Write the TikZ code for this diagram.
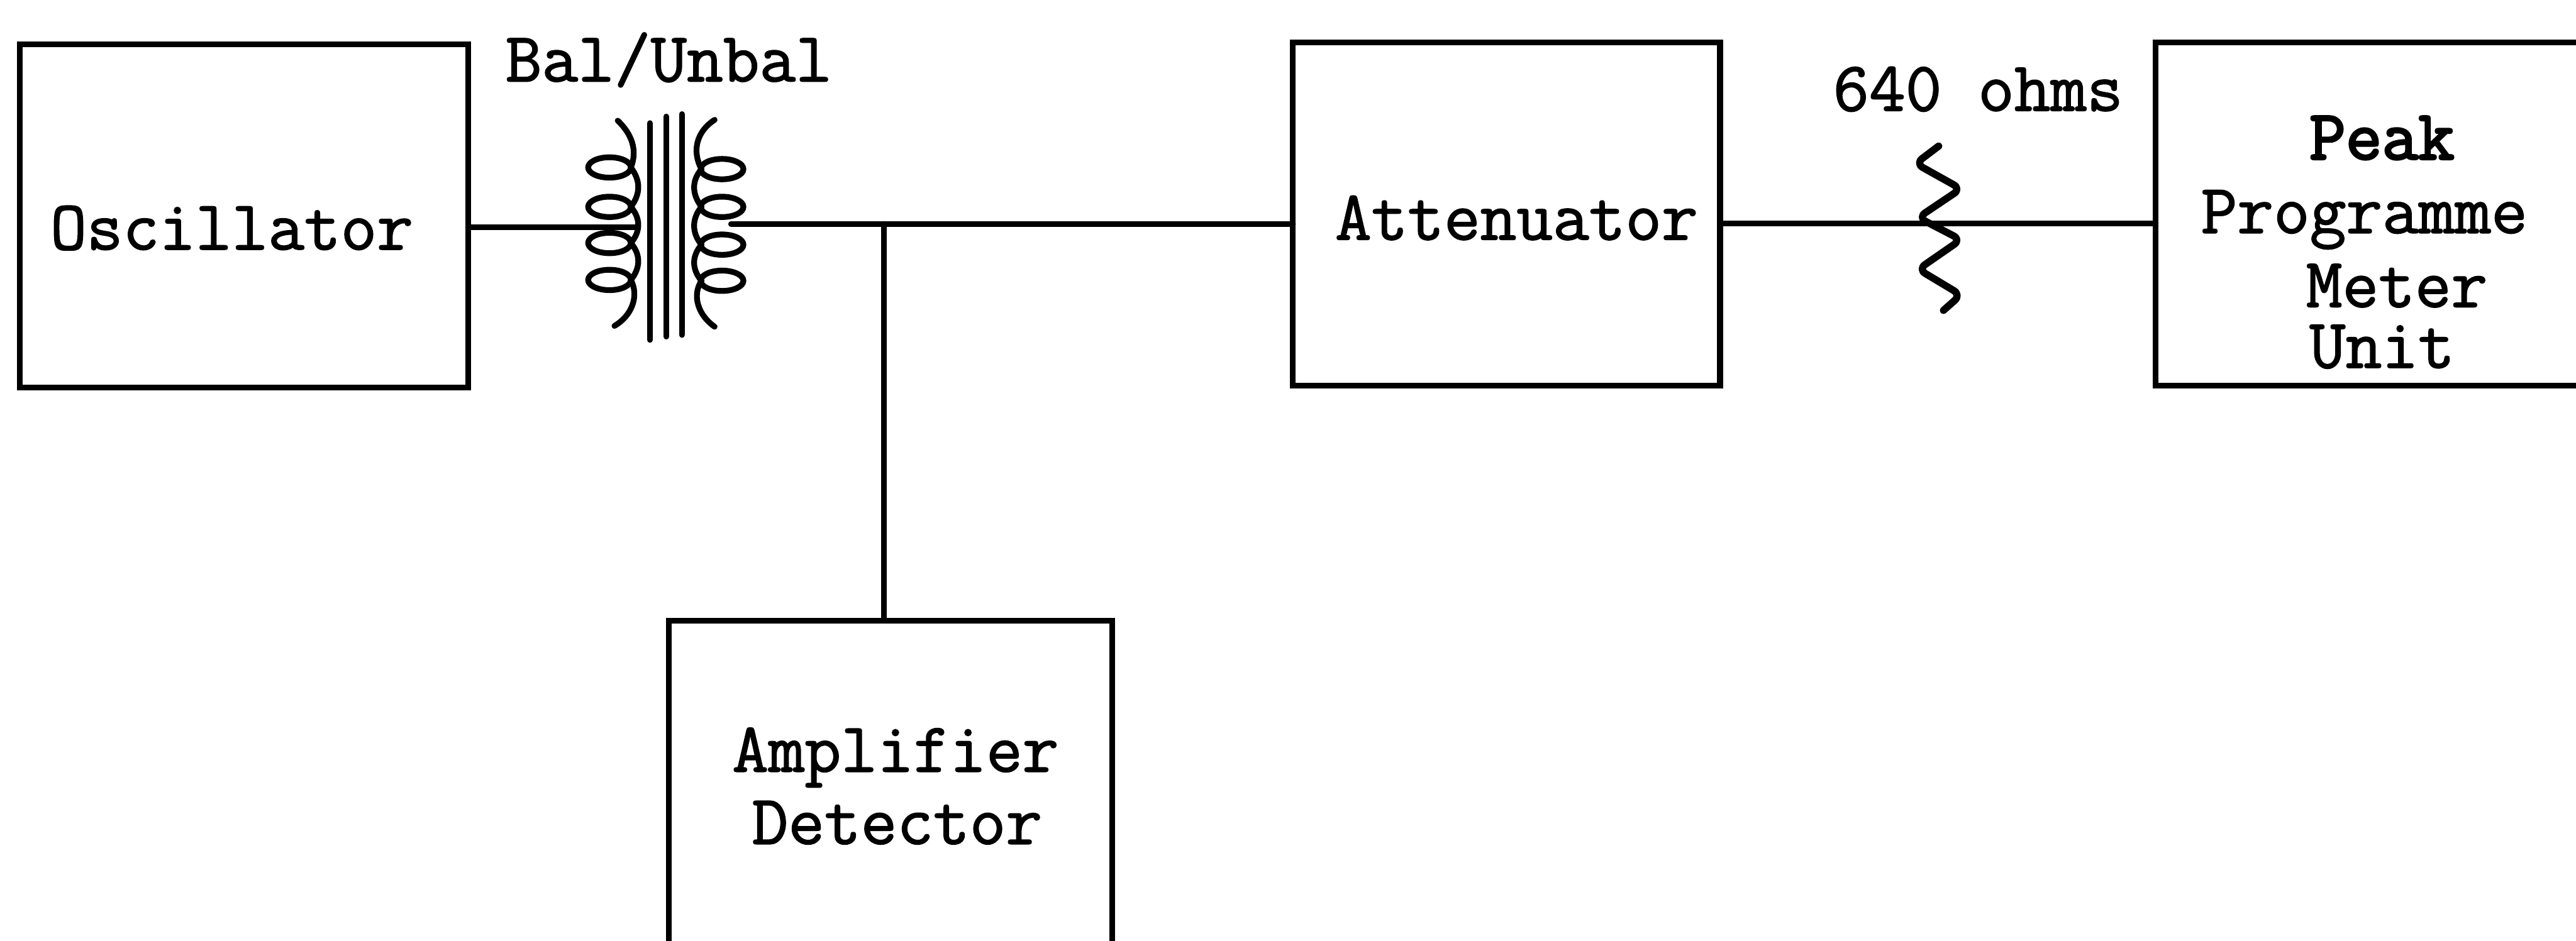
\documentclass[tikz,border=0pt]{standalone}
\usepackage{fontspec}
\usepackage{tikz}
\usetikzlibrary{positioning,calc}
\newfontfamily\typedfont[FakeBold=1.5]{Latin Modern Mono}
\newfontfamily\heavyfont[FakeBold=3]{Latin Modern Mono}
\tikzset{
  wire/.style={line width=1pt,line cap=round,line join=round},
  blockbox/.style={draw,line width=1pt,rectangle,anchor=north west,inner sep=0pt,outer sep=0pt},
  typed/.style={anchor=base west,inner sep=0pt,font=\typedfont\fontsize{12.2}{14}\selectfont}
}

\begin{document}
\begin{tikzpicture}[x=1cm,y=1cm]
\path[use as bounding box] (0,0) rectangle (15.68,-5.73);

% Blocks: the last two run off the edge of the sheet.
\node[blockbox,minimum width=2.73cm,minimum height=2.09cm] (osc) at (0.12,-0.27) {};
\node[blockbox,minimum width=2.60cm,minimum height=2.09cm] (atten) at (7.87,-0.26) {};
\node[blockbox,minimum width=2.80cm,minimum height=2.09cm] (ppm) at (13.12,-0.26) {};
\node[blockbox,minimum width=2.70cm,minimum height=2.20cm] (amp) at (4.07,-3.78) {};

% Block labels, set by baseline.
\node[typed] (osclabel) at (0.30,-1.52) {Oscillator};
\node[typed] (attenlabel) at (8.12,-1.46) {Attenuator};
\node[typed] (amplabel) at (4.45,-4.70) {Amplifier};
\node[typed] (detlabel) at (4.57,-5.14) {Detector};
\node[typed,font=\heavyfont\fontsize{12.2}{14}\selectfont] (peaklabel) at (14.05,-0.97) {Peak};
\node[typed] (proglabel) at (13.39,-1.42) {Programme};
\node[typed] (meterlabel) at (14.03,-1.87) {Meter};
\node[typed] (unitlabel) at (14.05,-2.24) {Unit};
\node[typed] (ballabel) at (3.07,-0.496) {Bal/Unbal};
\node[typed] (ohmlabel) at (11.15,-0.675) {640 ohms};

% Transformer core and its two windings.
\draw[wire] (3.956,-0.75)--(3.956,-2.07);
\draw[wire] (4.055,-0.71)--(4.055,-2.05);
\draw[wire] (4.15,-0.695)--(4.15,-2.04);
\foreach \y in {-1.02,-1.26,-1.48,-1.705}
  \draw[wire] (3.71,\y) ellipse (0.13 and 0.062);
\foreach \y in {-1.03,-1.26,-1.49,-1.71}
  \draw[wire] (4.395,\y) ellipse (0.13 and 0.062);
\draw[wire] (3.76,-0.735) .. controls (3.85,-0.82) and (3.88,-0.92) .. (3.84,-1.02)
  .. controls (3.90,-1.10) and (3.90,-1.18) .. (3.84,-1.26)
  .. controls (3.90,-1.33) and (3.90,-1.41) .. (3.84,-1.48)
  .. controls (3.90,-1.55) and (3.90,-1.63) .. (3.84,-1.705)
  .. controls (3.89,-1.80) and (3.85,-1.92) .. (3.74,-1.985);
\draw[wire] (4.35,-0.73) .. controls (4.24,-0.80) and (4.21,-0.92) .. (4.27,-1.03)
  .. controls (4.21,-1.10) and (4.21,-1.18) .. (4.27,-1.26)
  .. controls (4.21,-1.33) and (4.21,-1.42) .. (4.27,-1.49)
  .. controls (4.21,-1.56) and (4.21,-1.64) .. (4.27,-1.71)
  .. controls (4.21,-1.80) and (4.25,-1.92) .. (4.35,-1.99);
\coordinate (tleft) at (3.87,-1.385);
\coordinate (tright) at (4.45,-1.364);
\coordinate (junc) at (5.38,-1.364);
\coordinate (rin) at (11.70,-1.36);

% Connections between the blocks.
\draw[wire] (osc.east |- tleft) -- (tleft);
\draw[wire] (tright) -- (atten.west |- tright);
\draw[wire] (junc) -- (junc |- amp.north);
\draw[wire] (atten.east |- rin) -- (rin) -- (ppm.west |- rin);

% Resistor drawn across the line.
\draw[wire,line width=1.25pt,rounded corners=0.05cm] (11.80,-0.89) -- (11.66,-0.996)
  -- (11.936,-1.15) -- (11.676,-1.325) -- (11.936,-1.46) -- (11.676,-1.64)
  -- (11.936,-1.796) -- (11.83,-1.89);
\end{tikzpicture}
\end{document}
